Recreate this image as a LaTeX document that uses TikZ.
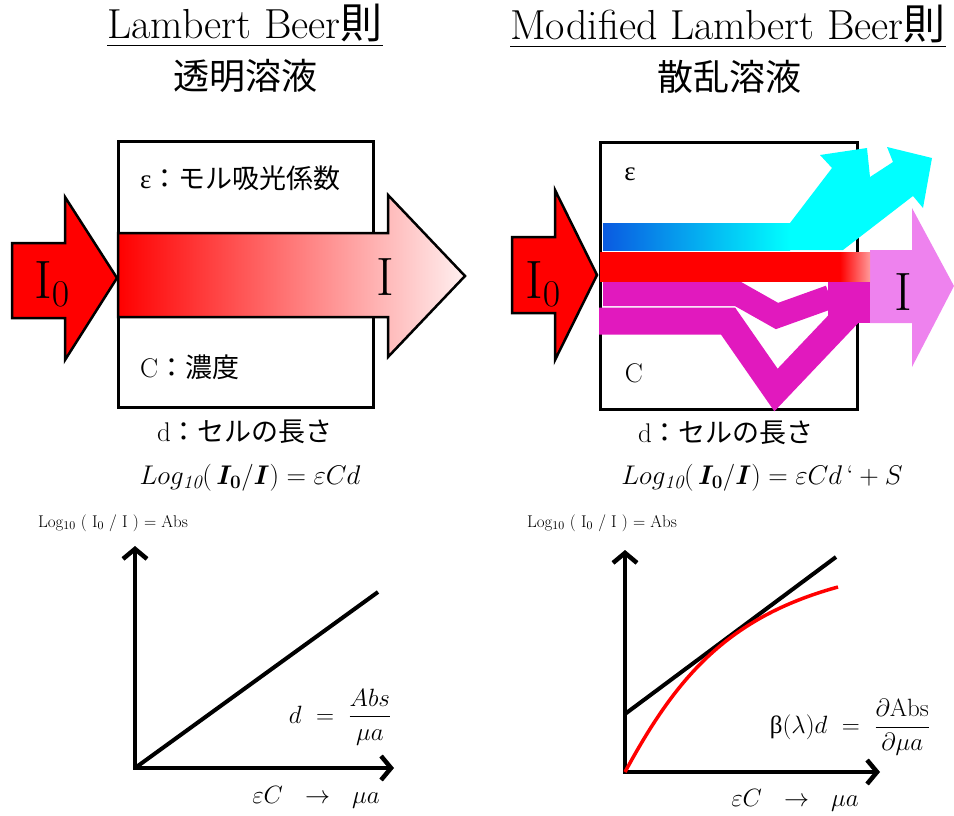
\RequirePackage{fix-cm}
\documentclass[tikz,border=0pt]{standalone}
\usepackage{amsmath}
\usepackage{fontspec}
\newfontfamily\cjk{Noto Sans CJK JP}
\newfontfamily\grk{Liberation Serif}
\usetikzlibrary{arrows.meta, positioning, calc}

\definecolor{beamcyan}{RGB}{0,255,255}
\definecolor{beamblue}{RGB}{10,90,225}
\definecolor{beammag}{RGB}{225,25,190}
\definecolor{beamviolet}{RGB}{238,130,238}
\newcommand{\setfs}[1]{\fontsize{#1}{#1}\selectfont}

\begin{document}
\begin{tikzpicture}[
  x=1pt, y=-1pt,
  cell/.style={draw=black, line width=3pt},
  beamarrow/.style={draw=black, line width=2.5pt, line join=miter},
  band/.style={line width=#1, line join=miter, color=beammag},
  axis/.style={line width=4.5pt, line join=miter,
               {Straight Barb[length=10pt,width=24pt]}-{Straight Barb[length=10pt,width=24pt]}},
  trend/.style={line width=4pt},
  title/.style={font=\setfs{42}, inner sep=0pt},
  subtitle/.style={font=\cjk\setfs{36}, inner sep=0pt},
  jlabel/.style={font=\setfs{27}, inner sep=0pt},
  beamlbl/.style={font=\setfs{54}, inner sep=0pt},
  formula/.style={font=\setfs{27}, inner sep=0pt},
  smalllbl/.style={font=\setfs{17}, inner sep=0pt},
  mathlbl/.style={font=\setfs{25}, inner sep=0pt}
]
  \useasboundingbox (0,0) rectangle (954,816);

  % titles
  \node[title, anchor=base] (ttlA) at (245,39) {\underline{Lambert Beer{\cjk 則}}};
  \node[subtitle] (subA) at (245,76) {透明溶液};
  \node[title, anchor=base] (ttlB) at (728,40) {\underline{Modified Lambert Beer{\cjk 則}}};
  \node[subtitle] (subB) at (729,77) {散乱溶液};

  % transparent cell
  \draw[cell] (118,141) rectangle (373,407);
  \shade[left color=red, right color=red!6, draw=black, line width=2.5pt, line join=miter]
    (118,233) -- (388,233) -- (388,195) -- (465,276) -- (388,357) -- (388,317) -- (118,317) -- cycle;
  \filldraw[beamarrow, fill=red]
    (12,243) -- (65,243) -- (65,197) -- (117,278) -- (65,360) -- (65,318) -- (12,318) -- cycle;
  \node[beamlbl] (inA) at (52,284) {I$_0$};
  \node[beamlbl] (outA) at (385,277) {I};
  \node[jlabel, anchor=west] (epsA) at (140,178) {{\grk ε}{\cjk ：モル吸光係数}};
  \node[jlabel, anchor=west] (concA) at (140,367) {C{\cjk ：濃度}};
  \node[jlabel] (lenA) at (245,432) {d{\cjk ：セルの長さ}};
  \node[formula] (lawA) at (250,478) {$Log_{\mathit{10}}(\,\boldsymbol{I_0}/\boldsymbol{I}) = \varepsilon Cd$};

  % scattering cell
  \draw[cell] (600,142) rectangle (857,409);
  \fill[beamviolet]
    (870,250) -- (912,250) -- (912,208) -- (954,286) -- (912,367) -- (912,323) -- (870,323) -- cycle;
  \fill[beamcyan]
    (603,223) -- (790,223) -- (832,168) -- (820,155) -- (867,148) -- (870,177) -- (893,162)
    -- (887,147) -- (932,158) -- (923,208) -- (913,196) -- (843,250) -- (603,250) -- cycle;
  \shade[left color=beamblue, right color=beamcyan] (603,223) rectangle (790,250);
  \fill[red] (600,252) rectangle (840,282);
  \shade[left color=red, right color=red!40] (840,252) rectangle (870,282);
  \draw[band=24pt] (603,294) -- (738,294) -- (777,316) -- (830,297);
  \draw[band=27pt] (599,321) -- (728,321) -- (776,390) -- (852,310);
  \fill[beammag] (828,282) rectangle (870,323);
  \filldraw[beamarrow, fill=red]
    (512,237) -- (555,237) -- (555,190) -- (597,275) -- (555,360) -- (555,313) -- (512,313) -- cycle;
  \node[beamlbl] (inB) at (543,284) {I$_0$};
  \node[beamlbl] (outB) at (903,292) {I};
  \node[jlabel] (epsB) at (630,174) {\grk ε};
  \node[jlabel] (concB) at (634,373) {C};
  \node[jlabel] (lenB) at (726,433) {d{\cjk ：セルの長さ}};
  \node[formula] (lawB) at (762,478) {$Log_{\mathit{10}}(\,\boldsymbol{I_0}/\boldsymbol{I}) = \varepsilon Cd\,\mbox{`}+S$};

  % linear plot
  \coordinate (oA) at (135,768);
  \coordinate (yA) at (135,546);
  \coordinate (xA) at (394,768);
  \coordinate (eA) at (378,592);
  \draw[axis] (yA) -- (oA) -- (xA);
  \draw[trend] (oA) -- (eA);
  \node[smalllbl] (ylblA) at (113,523) {Log$_{10}$ ( I$_0$ / I ) = Abs};
  \node[mathlbl] (slopeA) at (340,717) {$d\ =\ \dfrac{Abs}{\mu a}$};
  \node[mathlbl] (xlblA) at (316,797) {$\varepsilon C\ \ \rightarrow\ \ \mu a$};

  % nonlinear plot
  \coordinate (oB) at (625,772);
  \coordinate (yB) at (625,550);
  \coordinate (xB) at (880,772);
  \coordinate (sB) at (625,714);
  \coordinate (eB) at (836,557);
  \coordinate (rB) at (838,587);
  \draw[axis] (yB) -- (oB) -- (xB);
  \draw[trend] (sB) -- (eB);
  \draw[red, line width=3.5pt] (oB) .. controls (675,680) and (725,618) .. (rB);
  \node[smalllbl] (ylblB) at (602,523) {Log$_{10}$ ( I$_0$ / I ) = Abs};
  \node[mathlbl] (slopeB) at (850,727) {$\mbox{\grk β}(\lambda)d\ =\ \dfrac{\partial\mathrm{Abs}}{\partial\mu a}$};
  \node[mathlbl] (xlblB) at (795,800) {$\varepsilon C\ \ \rightarrow\ \ \mu a$};
\end{tikzpicture}
\end{document}
